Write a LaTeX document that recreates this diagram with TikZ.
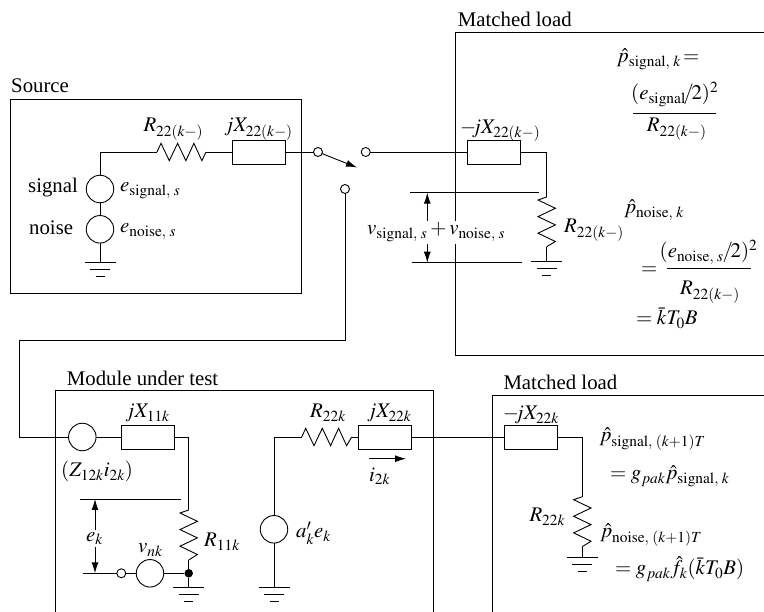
\documentclass[tikz,border=0pt]{standalone}
\usepackage{amsmath}
\usepackage{mathptmx}
\usepackage{fontspec}
\setmainfont{Liberation Serif}
\usetikzlibrary{arrows.meta}
\tikzset{
  wire/.style={line width=0.9pt},
  frame/.style={line width=1pt},
  imped/.style={draw,line width=0.9pt,minimum width=53pt,minimum height=24pt,inner sep=0pt,outer sep=0pt},
  gen/.style={draw,circle,line width=0.9pt,minimum size=27.5pt,inner sep=0pt,outer sep=0pt},
  term/.style={draw,circle,line width=0.9pt,minimum size=9pt,inner sep=0pt,outer sep=0pt},
  dotn/.style={fill,circle,minimum size=8.5pt,inner sep=0pt,outer sep=0pt},
  resh/.style={wire,to path={-- ++(4,-8.7) -- ++(8.3,17.4) -- ++(8.3,-17.4) -- ++(8.3,17.4) -- ++(8,-17.4) -- ++(8,17.4) -- (\tikztotarget)}},
  resv/.style={wire,to path={-- ++(-8.7,3) -- ++(17.4,8.3) -- ++(-17.4,8.3) -- ++(17.4,8.3) -- ++(-17.4,8.3) -- ++(17.4,8.3) -- (\tikztotarget)}},
  lab/.style={anchor=base west,inner sep=0pt,font=\fontsize{20.8}{25}\selectfont},
  gnd/.pic={
    \draw[wire] (-15.5,0)--(15.5,0);
    \draw[wire] (-10,7)--(10,7);
    \draw[wire] (-4.5,14)--(4.5,14);
  },
  tip/.style={-{Latex[length=11pt,width=7pt]},wire}
}
\begin{document}
\begin{tikzpicture}[x=1pt,y=-1pt]
  \useasboundingbox (0,0) rectangle (764,612);

  \draw[frame] (10,99.5) rectangle (301,294);
  \draw[frame] (764,33)--(455,33)--(455,356)--(764,356);
  \draw[frame] (55.7,612)--(55.7,390.7)--(433,390.7)--(433,612);
  \draw[frame] (764,396)--(492,396)--(492,612);

  \node[lab] (lsource) at (11,93) {Source};
  \node[lab] (lload) at (457.7,27) {Matched load};
  \node[lab] (lmodule) at (66.7,385.7) {Module under test};
  \node[lab] (lloadb) at (503.3,390) {Matched load};

  \node[imped] (xs) at (259.2,152) {};
  \node[gen] (gsig) at (100,189) {};
  \node[gen] (gnoi) at (100,229.3) {};
  \node[term] (ta) at (318,152) {};
  \node[term] (tb) at (365.7,152) {};
  \node[term] (tc) at (345,189) {};
  \coordinate (swend) at (357,167.5);
  \coordinate (ca) at (100,152);
  \coordinate (rsa) at (157,152);
  \coordinate (rsb) at (206,152);
  \coordinate (gs) at (100,262);
  \draw[wire] (gsig) -- (ca) -- (rsa);
  \draw[resh] (rsa) to (rsb);
  \draw[wire] (rsb) -- (xs);
  \draw[wire] (xs) -- (ta);
  \draw[wire] (gsig) -- (gnoi);
  \draw[wire] (gnoi) -- (gs);
  \pic at (gs) {gnd};
  \draw[tip] (ta) -- (swend);

  \node[lab] (lrs) at (143.3,131.7) {$R_{22(k{-})}$};
  \node[lab] (lxs) at (224,131.7) {$jX_{22(k{-})}$};
  \node[lab] (lsig) at (28,193) {signal};
  \node[lab] (lnoi) at (29,235) {noise};
  \node[lab] (lesig) at (120,191.7) {$e_{\mathrm{signal,}\;s}$};
  \node[lab] (lenoi) at (120,232.7) {$e_{\mathrm{noise,}\;s}$};

  \node[imped] (xl) at (494.2,152) {};
  \coordinate (cb) at (546.7,152);
  \coordinate (rla) at (546.7,197);
  \coordinate (rlb) at (546.7,246.7);
  \coordinate (gl) at (546.7,261.7);
  \draw[wire] (tb) -- (xl);
  \draw[wire] (xl) -- (cb) -- (rla);
  \draw[resv] (rla) to (rlb);
  \draw[wire] (rlb) -- (gl);
  \pic at (gl) {gnd};

  \node[lab] (lxl) at (460,133.3) {${-}\mkern-4mu jX_{22(k{-})}$};
  \node[lab] (lrl) at (564,233) {$R_{22(k{-})}$};

  \coordinate (vta) at (410,192.7);
  \coordinate (vtb) at (539,192.7);
  \coordinate (vba) at (411.7,262.7);
  \coordinate (vbb) at (522,262.7);
  \coordinate (vat) at (427.3,192.7);
  \coordinate (vab) at (427.3,262.7);
  \draw[wire] (vta) -- (vtb);
  \draw[wire] (vba) -- (vbb);
  \node[lab,fill=white,inner ysep=2pt] (lv) at (367,235) {$v_{\mathrm{signal,}\;s}+v_{\mathrm{noise,}\;s}$};
  \draw[tip] (lv.north -| vat) -- (vat);
  \draw[tip] (lv.south -| vab) -- (vab);

  \node[lab] (lpsig) at (616.7,63) {$\hat{p}_{\mathrm{signal,}\;k}\,{=}$};
  \node[lab] (lnsig) at (631,100) {$(e_{\mathrm{signal}}\mkern-2mu/\mkern-2mu2)^2$};
  \node[lab] (ldsig) at (646.7,132) {$R_{22(k{-})}$};
  \coordinate (fsa) at (633,113.3);
  \coordinate (fsb) at (716,113.3);
  \draw[wire] (fsa) -- (fsb);
  \node[lab] (lpnoi) at (624,214) {$\hat{p}_{\mathrm{noise,}\;k}$};
  \node[lab] (leqa) at (641,275) {$=$};
  \node[lab] (lnnoi) at (659.5,258) {$(e_{\mathrm{noise,}\;s}\mkern-1mu/\mkern-2mu2)^2$};
  \node[lab] (ldnoi) at (680,295) {$R_{22(k{-})}$};
  \coordinate (fna) at (667,268.3);
  \coordinate (fnb) at (751,268.3);
  \draw[wire] (fna) -- (fnb);
  \node[lab] (lktb) at (636,325) {$=\bar{k}T_0B$};

  \coordinate (wa) at (345,340);
  \coordinate (wb) at (19,340);
  \coordinate (wc) at (19,437);
  \node[gen] (gz) at (82.3,437) {};
  \node[imped] (xm) at (147.5,437) {};
  \coordinate (cc) at (188.7,437);
  \coordinate (rma) at (188.7,510);
  \coordinate (rmb) at (188.7,560);
  \node[dotn] (dm) at (188.7,573.3) {};
  \node[gen] (gv) at (150,573.3) {};
  \node[term] (tm) at (121.3,573.3) {};
  \coordinate (gm) at (188.7,587.7);
  \coordinate (ea) at (83.3,573.3);
  \draw[wire] (tc) -- (wa) -- (wb) -- (wc) -- (gz);
  \draw[wire] (gz) -- (xm);
  \draw[wire] (xm) -- (cc) -- (rma);
  \draw[resv] (rma) to (rmb);
  \draw[wire] (rmb) -- (dm);
  \draw[wire] (dm) -- (gm);
  \pic at (gm) {gnd};
  \draw[wire] (dm) -- (gv);
  \draw[wire] (gv) -- (tm);
  \draw[wire] (tm) -- (ea);

  \coordinate (eta) at (80,499);
  \coordinate (etb) at (181,499);
  \coordinate (eat) at (95,499);
  \coordinate (eab) at (95,573.3);
  \draw[wire] (eta) -- (etb);
  \node[lab,fill=white,inner ysep=2pt] (lek) at (86,541.5) {$e_k$};
  \draw[tip] (lek.north -| eat) -- (eat);
  \draw[tip] (lek.south -| eab) -- (eab);

  \node[lab] (lz) at (61,477) {$(Z_{12k}i_{2k})$};
  \node[lab] (lxm) at (125,418) {$jX_{11k}$};
  \node[lab] (lvn) at (138,553) {$v_{nk}$};
  \node[lab] (lrm) at (204,546.7) {$R_{11k}$};

  \node[gen] (ga) at (274,529.3) {};
  \node[imped] (xo) at (385.3,437) {};
  \node[imped] (xr) at (530.8,437) {};
  \coordinate (cd) at (274,437);
  \coordinate (roa) at (301.7,437);
  \coordinate (rob) at (351.7,437);
  \coordinate (go) at (274,587.7);
  \coordinate (ce) at (582.3,437);
  \coordinate (rra) at (582.3,496.7);
  \coordinate (rrb) at (582.3,546.7);
  \coordinate (gr) at (582.3,557.3);
  \draw[wire] (ga) -- (cd) -- (roa);
  \draw[resh] (roa) to (rob);
  \draw[wire] (rob) -- (xo);
  \draw[wire] (xo) -- (xr);
  \draw[wire] (ga) -- (go);
  \pic at (go) {gnd};
  \draw[wire] (xr) -- (ce) -- (rra);
  \draw[resv] (rra) to (rrb);
  \draw[wire] (rrb) -- (gr);
  \pic at (gr) {gnd};

  \coordinate (ia) at (369.3,458.7);
  \coordinate (ib) at (406,458.7);
  \draw[tip] (ia) -- (ib);

  \node[lab] (lrr) at (310,418) {$R_{22k}$};
  \node[lab] (lxo) at (366.7,418) {$jX_{22k}$};
  \node[lab] (li) at (369,481.5) {$i_{2k}$};
  \node[lab] (lae) at (296,538) {$a'_ke_k$};
  \node[lab] (lxr) at (502.7,420) {${-}\mkern-4mu jX_{22k}$};
  \node[lab] (lrv) at (529.3,521.7) {$R_{22k}$};
  \node[lab] (lps) at (599.3,441.7) {$\hat{p}_{\mathrm{signal,}\;(k+1)T}$};
  \node[lab] (lgs) at (610,480) {$=g_{pak}\hat{p}_{\mathrm{signal,}\;k}$};
  \node[lab] (lpn) at (600,537.7) {$\hat{p}_{\mathrm{noise,}\;(k+1)T}$};
  \node[lab] (lgn) at (615,575) {$=g_{pak}\hat{f}_k(\bar{k}T_0B)$};
\end{tikzpicture}
\end{document}
